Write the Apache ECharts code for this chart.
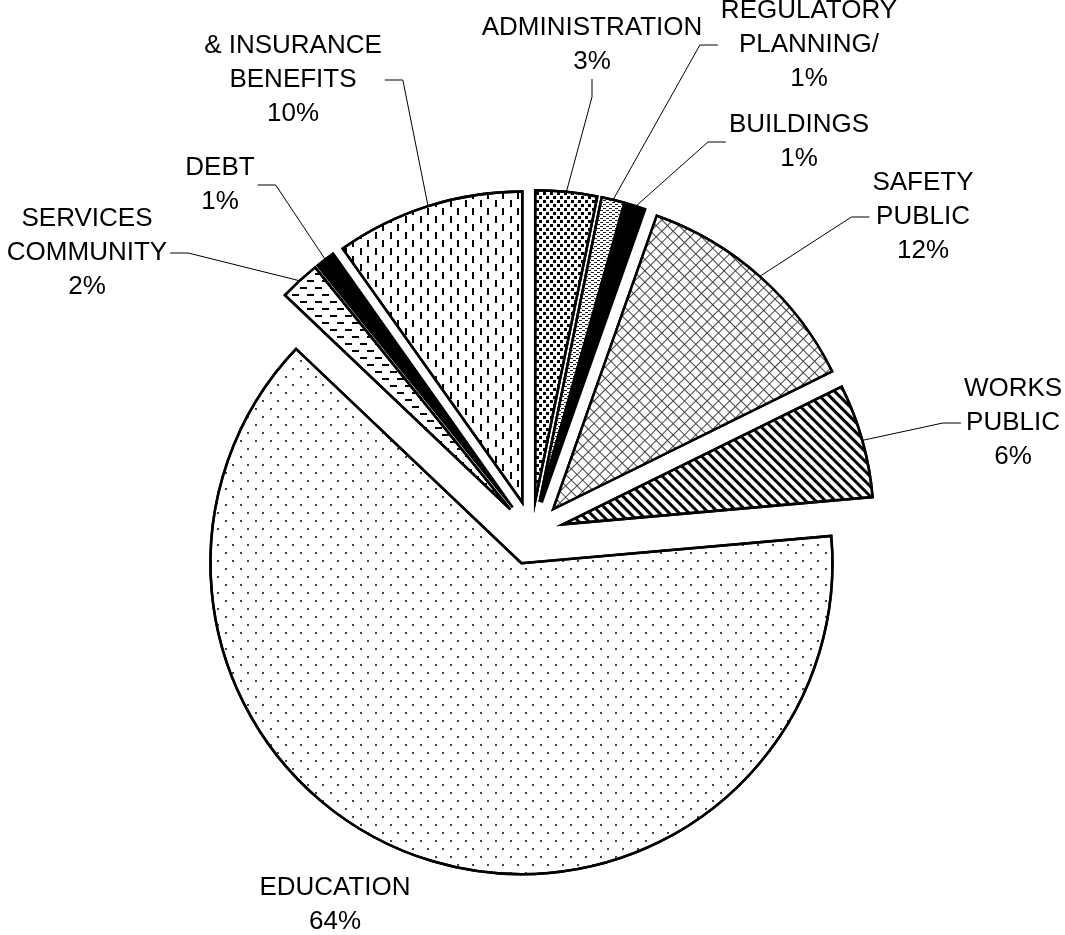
<!DOCTYPE html>
<html>
<head>
<meta charset="utf-8">
<title>Budget pie</title>
<script src="https://cdn.jsdelivr.net/npm/echarts/dist/echarts.min.js"></script>
<style>
  html, body { margin: 0; padding: 0; background: #fff; }
  #chart { width: 1065px; height: 935px; }
</style>
</head>
<body>
<div id="chart"></div>
<script>
// data, clockwise from 12 o'clock
var names = ["ADMINISTRATION", "REGULATORY\nPLANNING/", "BUILDINGS", "SAFETY\nPUBLIC", "WORKS\nPUBLIC",
  "EDUCATION", "SERVICES\nCOMMUNITY", "DEBT", "& INSURANCE\nBENEFITS"];
var values = [3.2, 1.2, 1.0, 12.3, 5.9, 63.5, 2.1, 1.0, 9.8];

// label anchors (hand placed like the original)
var labelPos = [[592, 45], [809, 45], [799, 142], [923, 217], [1013, 423],
  [335, 905], [87, 253], [220, 185], [293, 80]];

// black & white fill patterns
var patterns = [
  { color: "#fff", decal: { symbol: "rect", color: "#000", dashArrayX: [[3, 4], [0, 4, 3, 0]], dashArrayY: [3, 1] } },
  { color: "#fff", decal: { symbol: "rect", color: "#222", dashArrayX: [[3, 3], [0, 3, 3, 0]], dashArrayY: [1, 1] } },
  { color: "#000" },
  { color: "#444", decal: { symbol: "rect", color: "#fff", dashArrayX: [[7, 1]], dashArrayY: [7, 1], rotation: Math.PI / 4 } },
  { color: "#fff", decal: { symbol: "rect", color: "#000", dashArrayX: [[1, 0]], dashArrayY: [3, 4], rotation: Math.PI / 4 } },
  { color: "#fff", decal: { symbol: "rect", color: "#444", dashArrayX: [[2, 13], [0, 7, 2, 6]], dashArrayY: [2, 6] } },
  { color: "#fff", decal: { symbol: "rect", color: "#000", dashArrayX: [[7, 8], [0, 7, 7, 1]], dashArrayY: [2, 5] } },
  { color: "#000" },
  { color: "#fff", decal: { symbol: "rect", color: "#000", dashArrayX: [[2, 13], [0, 7, 2, 6]], dashArrayY: [7, 1] } }
];

var CENTER = [532, 533];
var RADIUS = 311;
var EXPLODE = 32;

var chart = echarts.init(document.getElementById("chart"));

var total = values.reduce(function (a, b) { return a + b; }, 0);
var series = [];
var cum = 0;

// one pie per slice, so every slice can be pushed out along its own mid angle
values.forEach(function (v, i) {
  var mid = (90 - 360 * (cum + v / 2) / total) * Math.PI / 180;
  cum += v;
  var data = names.map(function (n, j) {
    if (j !== i) {
      return {
        name: n, value: values[j],
        itemStyle: { color: "rgba(0,0,0,0)", borderWidth: 0 },
        label: { show: false }, labelLine: { show: false }
      };
    }
    var p = patterns[j];
    var item = { name: n, value: values[j], itemStyle: { color: p.color } };
    if (p.decal) item.itemStyle.decal = p.decal;
    if (n === "EDUCATION") item.labelLine = { show: false };
    return item;
  });
  series.push({
    type: "pie",
    silent: true,
    center: [CENTER[0] + EXPLODE * Math.cos(mid), CENTER[1] - EXPLODE * Math.sin(mid)],
    radius: RADIUS,
    startAngle: 90,
    clockwise: true,
    avoidLabelOverlap: false,
    percentPrecision: 0,
    itemStyle: {
      borderColor: "#000",
      borderWidth: 2.5,
      borderJoin: "miter"
    },
    emphasis: { disabled: true },
    label: {
      show: true,
      formatter: "{b}\n{d}%",
      fontFamily: "'Liberation Sans', Arial, sans-serif",
      fontSize: 26,
      lineHeight: 34,
      color: "#000",
      align: "center",
      padding: [0, 3]
    },
    labelLine: {
      show: true,
      length: 10,
      length2: 18,
      smooth: false,
      lineStyle: { color: "#000", width: 1 }
    },
    labelLayout: function (p) {
      var pos = labelPos[p.dataIndex];
      return { x: pos[0], y: pos[1], align: "center", verticalAlign: "middle" };
    },
    data: data
  });
});

chart.setOption({
  animation: false,
  backgroundColor: "#fff",
  series: series
});
</script>
</body>
</html>
